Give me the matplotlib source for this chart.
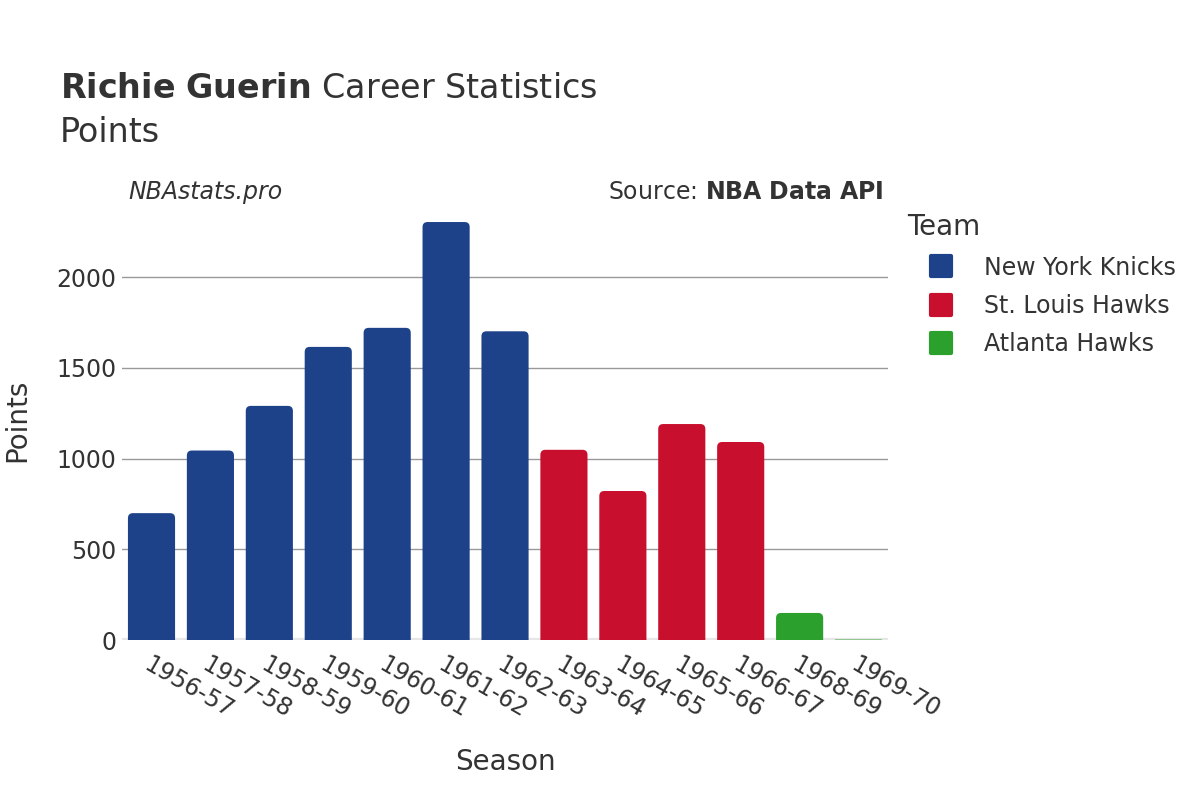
import matplotlib
matplotlib.use("Agg")
import matplotlib.pyplot as plt
from matplotlib.patches import FancyBboxPatch
from matplotlib.lines import Line2D
from matplotlib.markers import MarkerStyle

seasons = ["1956-57", "1957-58", "1958-59", "1959-60", "1960-61", "1961-62", "1962-63",
           "1963-64", "1964-65", "1965-66", "1966-67", "1968-69", "1969-70"]
points = [699, 1044, 1290, 1615, 1720, 2303, 1701, 1048, 821, 1190, 1091, 149, 4]
teams = ["New York Knicks"] * 7 + ["St. Louis Hawks"] * 4 + ["Atlanta Hawks"] * 2
team_order = ["New York Knicks", "St. Louis Hawks", "Atlanta Hawks"]
team_colors = {"New York Knicks": "#1d428a", "St. Louis Hawks": "#c8102e", "Atlanta Hawks": "#2ca02c"}
yticks = [0, 500, 1000, 1500, 2000]

TXT = "#333333"
plt.rcParams['font.family'] = ['DejaVu Sans']

fig = plt.figure(figsize=(12, 8), dpi=100)
ax = fig.add_axes([0.1017, 0.2, 0.6383, 0.549])
ymax = 2420
ax.set_xlim(-0.5, len(seasons) - 0.5)
ax.set_ylim(0, ymax)

ax_w_px = 0.6383 * 1200
ax_h_px = 0.549 * 800
px_per_x = ax_w_px / len(seasons)
px_per_y = ax_h_px / ymax
r_px = 5
bw = 0.8
aspect = px_per_x / px_per_y
for i, (s, v, t) in enumerate(zip(seasons, points, teams)):
    x0 = i - bw / 2
    ext = 40
    if v * px_per_y < 3:
        p = plt.Rectangle((x0, 0), bw, max(v, 6), facecolor=team_colors[t], edgecolor="none",
                          alpha=0.45, zorder=3)
    else:
        p = FancyBboxPatch((x0, -ext), bw, v + ext,
                           boxstyle=f"round,pad=0,rounding_size={r_px / px_per_x}",
                           mutation_aspect=aspect,
                           facecolor=team_colors[t], edgecolor="none", zorder=3)
    p.set_clip_on(True)
    ax.add_patch(p)

ax.set_yticks(yticks)
ax.set_yticklabels([str(v) for v in yticks], fontsize=17, color=TXT)
ax.set_xticks(range(len(seasons)))
ax.set_xticklabels(seasons, rotation=-30, ha='left', va='top', rotation_mode='anchor',
                   fontsize=17, color=TXT)
ax.tick_params(axis='x', length=0, pad=9)
ax.tick_params(axis='y', length=0, pad=4)

for v in yticks[1:]:
    ax.axhline(v, color="#999999", lw=1, zorder=1)
ax.axhline(0, color="#e6e6e6", lw=3, zorder=2)
for sp in ax.spines.values():
    sp.set_visible(False)

ax.set_xlabel("Season", fontsize=20, color=TXT, labelpad=18)
ax.set_ylabel("Points", fontsize=20, color=TXT, labelpad=18)

fig.text(60 / 1200, 1 - 88 / 800, r"$\bf{Richie\ Guerin}$" + " Career Statistics",
         fontsize=24, color=TXT, va='center', ha='left')
fig.text(60 / 1200, 1 - 132 / 800, "Points", fontsize=24, color=TXT, va='center', ha='left')
fig.text(128 / 1200, 1 - 192 / 800, "NBAstats.pro", fontsize=17, color=TXT,
         style='italic', va='center', ha='left')
fig.text(884 / 1200, 1 - 192 / 800, r"Source: $\bf{NBA\ Data\ API}$", fontsize=17, color=TXT,
         va='center', ha='right')

ms = MarkerStyle('s', joinstyle='round')
handles = [Line2D([0], [0], marker=ms, linestyle='none', markersize=15, markeredgewidth=3,
                  markerfacecolor=team_colors[t], markeredgecolor=team_colors[t])
           for t in team_order]
leg = fig.legend(handles, team_order, loc='upper left', bbox_to_anchor=(898 / 1200, 1 - 204 / 800),
                 frameon=False, title="Team", fontsize=17, title_fontsize=20,
                 labelcolor=TXT, handletextpad=0.38, labelspacing=0.6, borderaxespad=0,
                 handlelength=2.85)
leg.get_title().set_color(TXT)
leg._legend_box.align = "left"

fig.savefig("out.png", dpi=100, facecolor="white")
